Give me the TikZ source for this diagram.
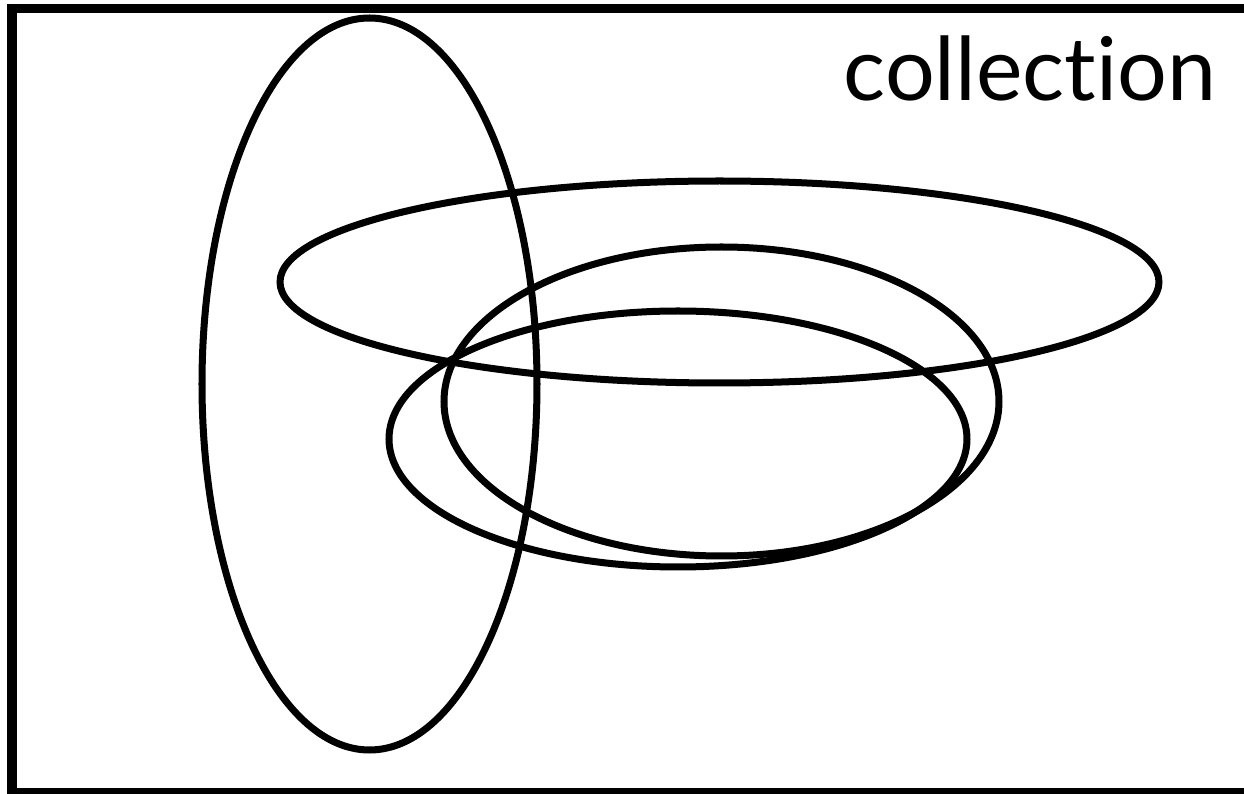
\documentclass[tikz,border=0pt]{standalone}
\usepackage{fontspec}
\setmainfont[Ligatures=NoCommon]{Lato}
\usetikzlibrary{positioning}

\tikzset{
  setline/.style={line width=0.07cm},
  frameline/.style={line width=0.09cm}
}

\begin{document}
\begin{tikzpicture}[x=0.01cm,y=-0.01cm]
\useasboundingbox (0,0) rectangle (1244,794);
% Frame of the collection (runs past the right edge)
\draw[frameline] (1300,9) -- (12,9) -- (12,793) -- (1300,793);
\node[anchor=base east,inner sep=0,font=\fontsize{25}{28}\selectfont] (title) at (1217,101) {collection};

% Sets as ellipses
\coordinate (tall) at (369.5,384);
\coordinate (wide) at (719.5,282);
\coordinate (mid) at (721.5,401.5);
\coordinate (low) at (678,439);
\draw[setline] (tall) ellipse [x radius=167.5,y radius=366];
\draw[setline] (wide) ellipse [x radius=439.5,y radius=101];
\draw[setline] (mid) ellipse [x radius=277.5,y radius=154.5];
\draw[setline] (low) ellipse [x radius=289,y radius=128];
\end{tikzpicture}
\end{document}
